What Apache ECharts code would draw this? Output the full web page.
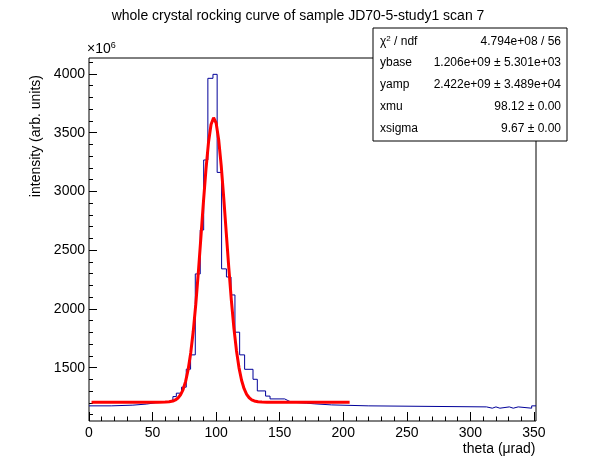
<!DOCTYPE html>
<html>
<head>
<meta charset="utf-8">
<script src="https://cdn.jsdelivr.net/npm/echarts@6/dist/echarts.min.js"></script>
<style>
    body { margin: 0; background: #fff; }
    #chartDiv { width: 596px; height: 472px; }
</style>
</head>
<body>
<div id="chartDiv"></div>
<script>
    // histogram runs: left edges (last value is the right edge) and contents in units of 1e6
    var binEdges = [0, 17.5, 34.5, 45.0, 52.4, 63.4, 66.0, 68.7, 72.8, 76.5,
        79.9, 83.6, 87.5, 90.2, 93.5, 97.5, 100.8, 104.3, 108.1, 111.7,
        114.8, 118.5, 122.4, 129.0, 132.4, 138.9, 142.4, 153.9, 156.5, 159.2,
        171.0, 177.6, 190.7, 219.6, 312.7, 317.2, 320.1, 323.2, 330.6, 333.7,
        337.6, 348.2, 351.6];
    var binCounts = [1175, 1181, 1190, 1201, 1210, 1225, 1254, 1283, 1334, 1487,
        1609, 2298, 2672, 3268, 3963, 3997, 3162, 2341, 2272, 2119,
        1802, 1609, 1486, 1401, 1302, 1258, 1234, 1220, 1206, 1198,
        1192, 1183, 1175, 1166, 1155, 1166, 1155, 1166, 1155, 1166,
        1155, 1175];

    // gaussian fit curve
    var fitX = [2, 40, 55, 60, 63, 66, 68, 70, 72, 74, 76, 78, 80, 82, 84, 86, 88, 90, 92, 94,
        96, 98, 100, 102, 104, 106, 108, 110, 112, 114, 116, 118, 120, 122, 124, 126, 128, 130,
        133, 136, 140, 205];
    var fitY = [1206, 1206, 1206.1, 1207, 1209.3, 1215.7, 1225, 1241.3, 1269.1, 1313.9,
        1383, 1484, 1624.6, 1809.6, 2040.1, 2310.2, 2606.7, 2908.4, 3188.4, 3417.8,
        3570.6, 3627.8, 3582.7, 3440.8, 3219.2, 2943.8, 2643.2, 2344.8, 2070.7, 1835,
        1644.4, 1498.6, 1393.2, 1320.8, 1273.4, 1243.9, 1226.5, 1216.6, 1209.6, 1207.1,
        1206.2, 1206];

    var xMajorTicks = [0, 50, 100, 150, 200, 250, 300, 350];
    var xMinorTicks = [10, 20, 30, 40, 60, 70, 80, 90, 110, 120, 130, 140, 160, 170, 180, 190,
        210, 220, 230, 240, 260, 270, 280, 290, 310, 320, 330, 340];
    var yMajorTicks = [1500, 2000, 2500, 3000, 3500, 4000];
    var yMinorTicks = [1100, 1200, 1300, 1400, 1600, 1700, 1800, 1900, 2100, 2200, 2300, 2400,
        2600, 2700, 2800, 2900, 3100, 3200, 3300, 3400, 3600, 3700, 3800, 3900, 4100];

    var statLabels = ['{a|χ}{s|2}{a| / ndf}', 'ybase', 'yamp', 'xmu', 'xsigma'];
    var statValues = ['4.794e+08 / 56', '1.206e+09 ± 5.301e+03', '2.422e+09 ± 3.489e+04',
        '98.12 ± 0.00', '9.67 ± 0.00'];

    var FONT = 'Liberation Sans, Arial, Helvetica, sans-serif';

    var histData = [];
    for (var i = 0; i < binCounts.length; i++) {
        histData.push([binEdges[i], binCounts[i]]);
    }
    histData.push([binEdges[binEdges.length - 1], binCounts[binCounts.length - 1]]);

    var fitData = [];
    for (var j = 0; j < fitX.length; j++) {
        fitData.push([fitX[j], fitY[j]]);
    }

    // stats box
    var statChildren = [{
        type: 'rect',
        shape: { x: 0, y: 0, width: 194, height: 113 },
        style: { fill: '#fff', stroke: '#000', lineWidth: 1 }
    }];
    for (var k = 0; k < statLabels.length; k++) {
        var rowY = 13.3 + k * 21.8;
        statChildren.push({
            type: 'text', x: 7, y: rowY,
            style: {
                text: statLabels[k], align: 'left', verticalAlign: 'middle',
                font: '12px ' + FONT, fill: '#000',
                rich: {
                    a: { fontSize: 12, fontFamily: FONT, lineHeight: 14 },
                    s: { fontSize: 8, fontFamily: FONT, verticalAlign: 'top', lineHeight: 14 }
                }
            }
        });
        statChildren.push({
            type: 'text', x: 188, y: rowY,
            style: {
                text: statValues[k], align: 'right', verticalAlign: 'middle',
                font: '12px ' + FONT, fill: '#000'
            }
        });
    }

    function plainNumber(v) {
        return String(v);
    }

    var chart = echarts.init(document.getElementById('chartDiv'));
    chart.setOption({
        animation: false,
        backgroundColor: '#fff',
        title: {
            text: 'whole crystal rocking curve of sample JD70-5-study1 scan 7',
            left: 'center',
            top: 4,
            textStyle: { fontSize: 14, fontWeight: 'normal', color: '#000', fontFamily: FONT }
        },
        grid: {
            left: 89, top: 58, right: 60, bottom: 51,
            show: true, borderColor: '#000', borderWidth: 1, backgroundColor: '#fff'
        },
        xAxis: [{
            type: 'value', min: 0, max: 351.6,
            name: 'theta (μrad)',
            nameLocation: 'end',
            nameGap: -0.5,
            nameTextStyle: {
                align: 'right', verticalAlign: 'top', padding: [21, 0, 0, 0],
                fontSize: 14, color: '#000', fontFamily: FONT
            },
            axisLine: { show: false },
            splitLine: { show: false },
            axisTick: { inside: true, length: 9, customValues: xMajorTicks, lineStyle: { color: '#000' } },
            axisLabel: { customValues: xMajorTicks, formatter: plainNumber, margin: 5, fontSize: 14, color: '#000', fontFamily: FONT }
        }, {
            type: 'value', min: 0, max: 351.6, position: 'bottom',
            axisLine: { show: false },
            splitLine: { show: false },
            axisLabel: { show: false },
            axisTick: { inside: true, length: 4.5, customValues: xMinorTicks, lineStyle: { color: '#000' } }
        }],
        yAxis: [{
            type: 'value', min: 1046, max: 4136,
            axisLine: { show: false },
            splitLine: { show: false },
            axisTick: { inside: true, length: 8, customValues: yMajorTicks, lineStyle: { color: '#000' } },
            axisLabel: { customValues: yMajorTicks, formatter: plainNumber, margin: 4, fontSize: 14, color: '#000', fontFamily: FONT }
        }, {
            type: 'value', min: 1046, max: 4136, position: 'left',
            axisLine: { show: false },
            splitLine: { show: false },
            axisLabel: { show: false },
            axisTick: { inside: true, length: 4, customValues: yMinorTicks, lineStyle: { color: '#000' } }
        }],
        series: [{
            type: 'line',
            name: 'data',
            step: 'end',
            data: histData,
            showSymbol: false,
            symbol: 'none',
            lineStyle: { color: '#000099', width: 1 },
            z: 2
        }, {
            type: 'line',
            name: 'fit',
            data: fitData,
            showSymbol: false,
            symbol: 'none',
            smooth: false,
            lineStyle: { color: '#ff0000', width: 3 },
            z: 3
        }],
        graphic: [{
            type: 'text', x: 36, y: 75, rotation: Math.PI / 2,
            style: {
                text: 'intensity (arb. units)', align: 'right', verticalAlign: 'middle',
                font: '14px ' + FONT, fill: '#000'
            }
        }, {
            type: 'text', x: 87, y: 41,
            style: {
                text: '{a|×10}{s|6}', align: 'left', verticalAlign: 'top',
                font: '14px ' + FONT, fill: '#000',
                rich: {
                    a: { fontSize: 14, fontFamily: FONT, lineHeight: 16 },
                    s: { fontSize: 9, fontFamily: FONT, verticalAlign: 'top', lineHeight: 16 }
                }
            }
        }, {
            type: 'group', x: 373, y: 28, z: 100,
            children: statChildren
        }]
    });
</script>
</body>
</html>
